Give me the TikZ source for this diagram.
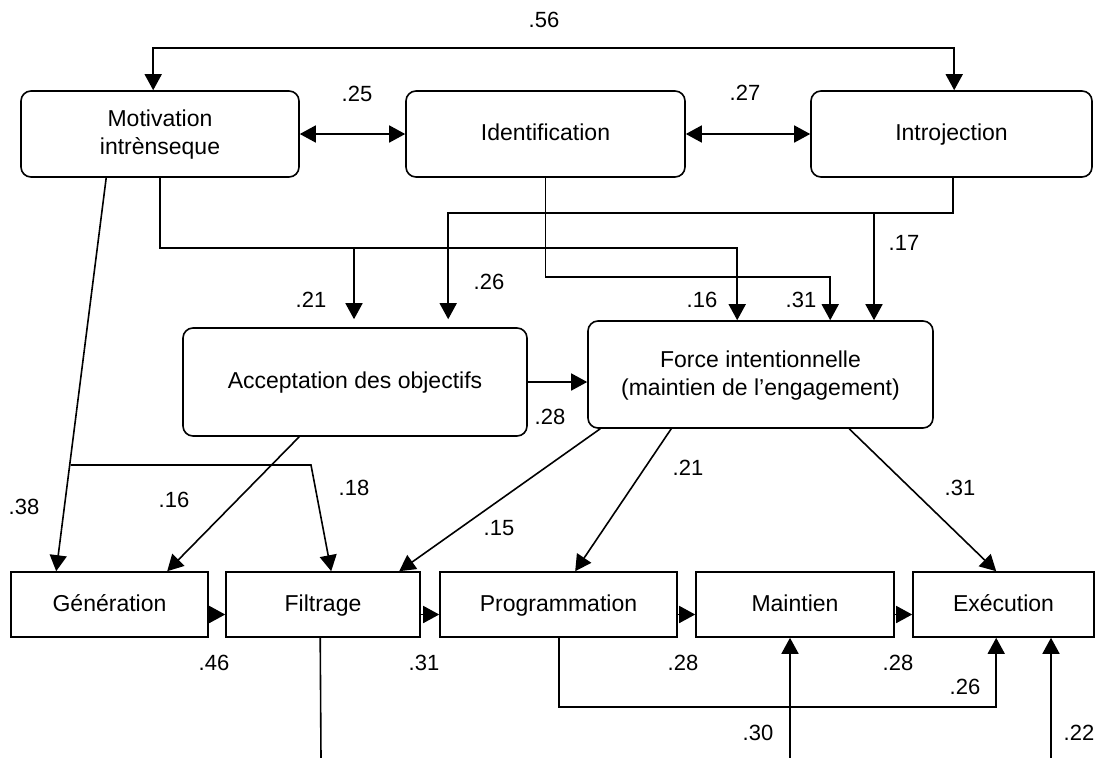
\documentclass[tikz,border=0pt]{standalone}
\usepackage{fontspec}
\setmainfont{Liberation Sans}
\usetikzlibrary{arrows.meta,calc}
\newcommand{\boxstrut}{\rule[-5pt]{0pt}{23pt}}

\begin{document}
\begin{tikzpicture}
    [
    x=1pt,
    y=-1pt,
    line width=1.6pt,
    roundbox/.style={
      draw,
      rounded corners=10pt,
      align=center,
      inner sep=0pt,
      font=\fontsize{23}{28}\selectfont
    },
    flatbox/.style={
      draw,
      inner sep=0pt,
      minimum height=65pt,
      font=\fontsize{23}{28}\selectfont
    },
    coef/.style={
      inner sep=0pt,
      font=\fontsize{22}{26}\selectfont
    },
    arr/.style={-{Triangle[length=16pt,width=17pt]}},
    darr/.style={{Triangle[length=16pt,width=17pt]}-{Triangle[length=16pt,width=17pt]}}
    ]
    \useasboundingbox (0,0) rectangle (1096,758);

    \node (mot) at (160,134) [roundbox, minimum width=278pt, minimum height=86pt] {\boxstrut Motivation\\\boxstrut intrènseque};
    \node (ide) at (545.5,134) [roundbox, minimum width=279pt, minimum height=86pt] {\boxstrut Identification};
    \node (int) at (951.5,134) [roundbox, minimum width=281pt, minimum height=86pt] {\boxstrut Introjection};
    \node (acc) at (355,382) [roundbox, minimum width=344pt, minimum height=108pt] {\boxstrut Acceptation des objectifs};
    \node (for) at (760.5,374.5) [roundbox, minimum width=345pt, minimum height=107pt] {\boxstrut Force intentionnelle\\\boxstrut (maintien de l’engagement)};

    \node (gen) at (109.5,604.5) [flatbox, minimum width=197pt] {\boxstrut Génération};
    \node (fil) at (323,604.5) [flatbox, minimum width=194pt] {\boxstrut Filtrage};
    \node (pro) at (558.5,604.5) [flatbox, minimum width=237pt] {\boxstrut Programmation};
    \node (mai) at (795,604.5) [flatbox, minimum width=198pt] {\boxstrut Maintien};
    \node (exe) at (1003.5,604.5) [flatbox, minimum width=181pt] {\boxstrut Exécution};

    \coordinate (mg) at (70.5,465);
    \coordinate (fk) at (311,465);
    \coordinate (mb) at (354,247);
    \coordinate (ib) at (874,212);
    \coordinate (fo) at (321,758);
    \coordinate (mi) at (790,758);
    \coordinate (ei) at (1051,758);

    \draw[darr] ([xshift=133pt]mot.north west) -- ++(0,-42) -| ([xshift=144pt]int.north west);
    \draw[darr] (mot.east) -- (ide.west);
    \draw[darr] (ide.east) -- (int.west);

    \draw[arr] ([xshift=86pt]mot.south west) -- ([xshift=46pt]gen.north west);
    \draw[arr] (mg) -- (fk) -- ([xshift=106pt]fil.north west);
    \draw[arr] ([xshift=140pt]mot.south west) -- ++(0,70) -| ([xshift=150pt]for.north west);
    \draw[arr, shorten >=8pt] (mb) -- (mb |- acc.north);
    \draw[arr] (ide.south) -- ++(0,99) -| ([xshift=243pt]for.north west);
    \draw[arr, shorten >=8pt] ([xshift=143pt]int.south west) -- ++(0,35) -| ([xshift=266pt]acc.north west);
    \draw[arr] (ib) -- (ib |- for.north);

    \draw[arr] (acc.east) -- (acc.east -| for.west);
    \draw[arr] ([xshift=117pt]acc.south west) -- ([xshift=157pt]gen.north west);
    \draw[arr] ([xshift=13pt]for.south west) -- ([xshift=174pt]fil.north west);
    \draw[arr] ([xshift=84pt]for.south west) -- ([xshift=136pt]pro.north west);
    \draw[arr] ([xshift=262pt]for.south west) -- ([xshift=84pt]exe.north west);

    \draw[arr] ([yshift=-10pt]gen.east) -- ([yshift=-10pt]gen.east -| fil.west);
    \draw[arr] ([yshift=-10pt]fil.east) -- ([yshift=-10pt]fil.east -| pro.west);
    \draw[arr] ([yshift=-10pt]pro.east) -- ([yshift=-10pt]pro.east -| mai.west);
    \draw[arr] ([yshift=-10pt]mai.east) -- ([yshift=-10pt]mai.east -| exe.west);

    \draw[arr] ([xshift=120pt]pro.south west) -- ++(0,69) -| ([xshift=84pt]exe.south west);
    \draw ([xshift=95pt]fil.south west) -- (fo);
    \draw[arr] (mi) -- (mi |- mai.south);
    \draw[arr] (ei) -- (ei |- exe.south);

    \node (c56) at (544,20) [coef] {.56};
    \node (c25) at (357,94) [coef] {.25};
    \node (c27) at (745,93) [coef] {.27};
    \node (c21a) at (311,300) [coef] {.21};
    \node (c26a) at (489,282) [coef] {.26};
    \node (c16a) at (702,300) [coef] {.16};
    \node (c31a) at (801,300) [coef] {.31};
    \node (c17) at (904,243) [coef] {.17};
    \node (c28a) at (550,417) [coef] {.28};
    \node (c38) at (24,507) [coef] {.38};
    \node (c16b) at (174,500) [coef] {.16};
    \node (c18) at (354,488) [coef] {.18};
    \node (c15) at (499,528) [coef] {.15};
    \node (c21b) at (688,468) [coef] {.21};
    \node (c31b) at (960,488) [coef] {.31};
    \node (c46) at (214,663) [coef] {.46};
    \node (c31c) at (424,663) [coef] {.31};
    \node (c28b) at (683,663) [coef] {.28};
    \node (c28c) at (898,663) [coef] {.28};
    \node (c26b) at (965,687) [coef] {.26};
    \node (c30) at (758,733) [coef] {.30};
    \node (c22) at (1079,733) [coef] {.22};
  \end{tikzpicture}
\end{document}
